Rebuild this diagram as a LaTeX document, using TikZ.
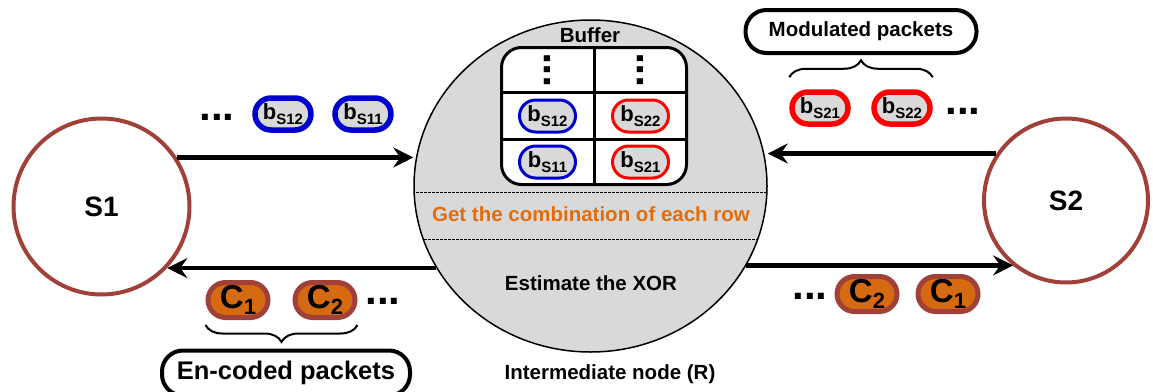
\documentclass[tikz,border=0pt]{standalone}
\usepackage{fontspec}
\setmainfont{Liberation Sans}
\usepackage{tikz}
\usetikzlibrary{arrows.meta, shapes.geometric, decorations.pathreplacing, calc, positioning}

\definecolor{brick}{RGB}{160,64,56}
\definecolor{packorange}{RGB}{214,106,16}
\definecolor{textorange}{RGB}{228,108,10}
\definecolor{pktgray}{RGB}{217,217,217}
\definecolor{pktblue}{RGB}{0,0,204}

\newcommand{\fsz}[1]{\fontsize{#1}{#1}\selectfont}
\newcommand{\bsub}[1]{\fsz{22}b\raisebox{-4.5pt}{\fsz{15}#1}}
\newcommand{\csub}[1]{\fsz{33}C\raisebox{-6.5pt}{\fsz{22}#1}}

\tikzset{
  host/.style={circle, draw=brick, line width=4pt, font=\bfseries\fsz{28}},
  relay/.style={ellipse, draw, line width=1.5pt, fill=pktgray, minimum width=353pt, minimum height=332pt},
  pkt/.style={draw, fill=pktgray, rounded corners=16pt, minimum width=56pt, minimum height=32pt, inner sep=0pt, font=\bfseries},
  enc/.style={draw=brick, fill=packorange, line width=5pt, rounded corners=17.5pt, minimum width=60pt, minimum height=35pt, inner sep=0pt, font=\bfseries},
  tag/.style={draw, line width=4pt, rounded corners=21pt, inner sep=0pt},
  flow/.style={line width=4.5pt, -{Stealth[length=20pt, width=20pt, inset=7pt]}},
  dots/.style={font=\bfseries\fsz{42}, inner sep=0pt},
  grid/.style={line width=3pt},
  curly/.style={line width=2pt, decorate, decoration={brace, amplitude=17pt}}
}

\begin{document}
\begin{tikzpicture}[x=1pt, y=-1pt]
  \useasboundingbox (0,0) rectangle (1153,391);

  \node [host, minimum size=176pt] (S1) at (101.5,206.5) {S1};
  \node [host, minimum size=164pt] (S2) at (1066,200.5) {S2};
  \node [relay] (R) at (590.5,186) {};

  % stages inside the relay
  \begin{scope}
    \clip (R.center) ellipse [x radius=176.5pt, y radius=166pt];
    \draw [line width=1pt, dash pattern=on 2.5pt off 1.5pt] (400,192) -- (780,192);
    \draw [line width=1pt, dash pattern=on 2.5pt off 1.5pt] (400,239) -- (780,239);
  \end{scope}
  \node [text=textorange, font=\bfseries\fsz{20.5}] (combine) at (591,214) {Get the combination of each row};
  \node [font=\bfseries\fsz{20.5}] (xor) at (591,283) {Estimate the XOR};
  \node [font=\bfseries\fsz{20.5}] (rname) at (610,374) {Intermediate node (R)};

  % buffer table
  \node [font=\bfseries\fsz{20.5}] (buftitle) at (590,35) {Buffer};
  \node [draw, grid, fill=white, rounded corners=20pt, minimum width=185pt, minimum height=137pt] (buf) at (594,116) {};
  \draw [grid] (buf.north) -- (buf.south);
  \draw [grid] ($(buf.north west)!1/3!(buf.south west)$) -- ($(buf.north east)!1/3!(buf.south east)$);
  \draw [grid] ($(buf.north west)!2/3!(buf.south west)$) -- ($(buf.north east)!2/3!(buf.south east)$);
  \node [dots, rotate=90] (vd1) at (547.5,70) {...};
  \node [dots, rotate=90] (vd2) at (640.5,70) {...};
  \node [pkt, draw=pktblue, line width=3pt] (t12) at (547.5,116) {\bsub{S12}};
  \node [pkt, draw=red, line width=3pt] (t22) at (640.5,116) {\bsub{S22}};
  \node [pkt, draw=pktblue, line width=3pt] (t11) at (547.5,162) {\bsub{S11}};
  \node [pkt, draw=red, line width=3pt] (t21) at (640.5,162) {\bsub{S21}};

  % packets from S1
  \node [dots] (d1) at (217,117) {...};
  \node [pkt, draw=pktblue, line width=5.5pt] (s12) at (283,114) {\bsub{S12}};
  \node [pkt, draw=pktblue, line width=5.5pt] (s11) at (363,114) {\bsub{S11}};

  % packets from S2
  \node [pkt, draw=red, line width=5.5pt] (s21) at (820,108) {\bsub{S21}};
  \node [pkt, draw=red, line width=5.5pt] (s22) at (902,108) {\bsub{S22}};
  \node [dots] (d2) at (963,111) {...};
  \draw [curly] ($(s21.north west)+(0,-12)$) -- ($(s22.north east)+(0,-12)$);
  \node [tag, minimum width=231pt, minimum height=43pt, font=\bfseries\fsz{20.5}] (modlabel) at (861,31.5) {Modulated packets};

  % coded packets
  \node [enc] (c1l) at (238,300) {\csub{1}};
  \node [enc] (c2l) at (325,300) {\csub{2}};
  \node [dots] (d3) at (383,301) {...};
  \draw [curly] ($(c2l.south east)+(0,5)$) -- ($(c1l.south west)+(0,5)$);
  \node [tag, minimum width=248pt, minimum height=45pt, font=\bfseries\fsz{25.5}] (enclabel) at (286,373) {En-coded packets};

  \node [dots] (d4) at (810,296) {...};
  \node [enc] (c2r) at (867,294) {\csub{2}};
  \node [enc] (c1r) at (948,294) {\csub{1}};

  % links
  \draw [flow] (S1.33) -- (S1.33 -| R.west);
  \draw [flow] (S2.146) -- (S2.146 -| R.east);
  \draw [flow] (R.208) -- (R.208 -| S1.-43);
  \draw [flow] (R.333) -- (R.333 -| S2.231);
\end{tikzpicture}
\end{document}
